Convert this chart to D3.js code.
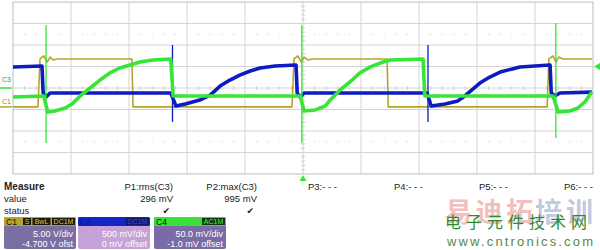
<!DOCTYPE html>
<html>
<head>
<meta charset="utf-8">
<script src="https://cdn.jsdelivr.net/npm/d3@7"></script>
<style>
  body { margin: 0; background: #fff; }
  svg { display: block; font-family: "Liberation Sans", Arial, sans-serif; }
</style>
</head>
<body>
<svg id="scope" width="600" height="250"></svg>
<script>
// ---- data, in screen divisions (time 0..10, volts -4..4) ----
var yellowTime  = [0, 0.43, 0.466, 0.53, 0.59, 0.64, 0.69, 0.76, 2.05, 2.07, 4.81, 4.845, 4.91, 4.97, 5.02, 5.09, 5.16, 6.45, 6.47, 9.21, 9.24, 9.31, 9.36, 9.41, 9.48, 9.98];
var yellowLevel = [-0.88, -0.88, 1.35, 1.49, 1.21, 1.44, 1.30, 1.35, 1.35, -0.88, -0.88, 1.35, 1.49, 1.21, 1.44, 1.30, 1.35, 1.35, -0.88, -0.88, 1.35, 1.49, 1.21, 1.44, 1.35, 1.35];

var blueTime  = [0, 0.50, 0.52, 0.57, 0.64, 2.72, 2.81, 2.97, 3.22, 3.40, 3.57, 3.74, 3.91, 4.09, 4.26, 4.52, 4.88, 4.90, 4.95, 5.02, 7.14, 7.21, 7.45, 7.67, 7.79, 8.05, 8.22, 8.40, 8.74, 9.26, 9.28, 9.34, 9.43, 9.98];
var blueLevel = [0.98, 1.02, -0.23, -0.42, -0.23, -0.23, -0.84, -0.74, -0.56, -0.33, 0.09, 0.37, 0.60, 0.79, 0.93, 1.02, 1.07, -0.23, -0.42, -0.23, -0.23, -0.84, -0.74, -0.60, -0.37, 0.23, 0.51, 0.74, 0.98, 1.07, -0.23, -0.37, -0.23, -0.19];
var blueSpikeTime = [2.75, 7.155];
var blueSpikeHigh = [2.0, 2.0];
var blueSpikeLow  = [-1.58, -1.58];

var greenTime  = [0, 0.53, 0.60, 0.72, 0.90, 1.02, 1.16, 1.33, 1.50, 1.67, 1.84, 2.02, 2.19, 2.41, 2.72, 2.76, 4.95, 5.02, 5.21, 5.38, 5.47, 5.64, 5.81, 5.98, 6.16, 6.33, 6.50, 7.07, 7.10, 9.31, 9.40, 9.60, 9.74, 9.86, 9.98];
var greenLevel = [-0.42, -0.37, -1.12, -1.07, -0.93, -0.74, -0.37, 0, 0.37, 0.70, 0.93, 1.07, 1.21, 1.30, 1.35, -0.37, -0.37, -1.07, -1.02, -0.84, -0.56, -0.09, 0.28, 0.70, 0.98, 1.16, 1.30, 1.35, -0.37, -0.37, -1.12, -1.07, -0.93, -0.65, -0.19];
var greenSpikeTime = [0.57, 4.98, 9.36];
var greenSpikeHigh = [2.93, 2.93, 3.02];
var greenSpikeLow  = [-2.56, -2.56, -2.33];

var measureNames  = ["P1:rms(C3)", "P2:max(C3)", "P3:- - -", "P4:- - -", "P5:- - -", "P6:- - -"];
var measureValues = ["296 mV", "995 mV", "", "", "", ""];
var measureStatus = ["\u2714", "\u2714", "", "", "", ""];

var chanNames   = ["C1", "C3", "C4"];
var chanBadges  = [["S", "BwL", "DC1M"], ["DC1M"], ["AC1M"]];
var chanScale   = ["5.00 V/div", "500 mV/div", "50.0 mV/div"];
var chanOffset  = ["-4.700 V ofst", "0 mV offset", "-1.0 mV offset"];

// ---- layout ----
var svg = d3.select("#scope");
var x = d3.scaleLinear().domain([0, 10]).range([13, 593]);
var y = d3.scaleLinear().domain([-4, 4]).range([174, 2]);

var YELLOW = "#b5a42c", BLUE = "#0c1cc0", GREEN = "#35e635";

// grid
var grid = svg.append("g");
grid.selectAll("line.v").data(d3.range(1, 10)).enter().append("line")
  .attr("x1", d => x(d)).attr("x2", d => x(d))
  .attr("y1", y(4)).attr("y2", y(-4))
  .attr("stroke", "#d4d4d4");
grid.selectAll("line.h").data(d3.range(-3, 4)).enter().append("line")
  .attr("y1", d => y(d)).attr("y2", d => y(d))
  .attr("x1", x(0)).attr("x2", x(10))
  .attr("stroke", "#d4d4d4");
grid.append("rect")
  .attr("x", x(0)).attr("y", y(4))
  .attr("width", x(10) - x(0)).attr("height", y(-4) - y(4))
  .attr("fill", "none").attr("stroke", "#bdbdbd");

// minor ticks on the centre axes and dotted rows at +-2.5 div
var minor = d3.range(0.2, 10, 0.2).filter(d => Math.abs(d - Math.round(d)) > 0.01);
grid.selectAll("line.mt").data(minor).enter().append("line")
  .attr("x1", d => x(d)).attr("x2", d => x(d))
  .attr("y1", y(0) - 2).attr("y2", y(0) + 2)
  .attr("stroke", "#cfcfcf");
[2.5, -2.5].forEach(function (row) {
  grid.selectAll(null).data(minor).enter().append("rect")
    .attr("x", d => x(d) - 0.5).attr("y", y(row) - 0.5)
    .attr("width", 1).attr("height", 1)
    .attr("fill", "#c8c8c8");
});
var vminor = d3.range(-3.8, 4, 0.2).filter(d => Math.abs(d - Math.round(d)) > 0.01);
grid.selectAll("line.vt").data(vminor).enter().append("line")
  .attr("y1", d => y(d)).attr("y2", d => y(d))
  .attr("x1", x(5) - 2).attr("x2", x(5) + 2)
  .attr("stroke", "#cfcfcf");

// traces
var line = d3.line().x(d => x(d[0])).y(d => y(d[1]));
function trace(times, levels, colour, width) {
  svg.append("path")
    .datum(d3.zip(times, levels))
    .attr("d", line)
    .attr("fill", "none")
    .attr("stroke", colour)
    .attr("stroke-width", width)
    .attr("stroke-linejoin", "round");
}
function spikes(times, hi, lo, colour) {
  svg.append("g").selectAll("line").data(times).enter().append("line")
    .attr("x1", d => x(d)).attr("x2", d => x(d))
    .attr("y1", (d, i) => y(hi[i])).attr("y2", (d, i) => y(lo[i]))
    .attr("stroke", colour).attr("stroke-width", 1.3);
}
trace(yellowTime, yellowLevel, YELLOW, 1.6);
trace(blueTime, blueLevel, BLUE, 3.6);
spikes(blueSpikeTime, blueSpikeHigh, blueSpikeLow, BLUE);
trace(greenTime, greenLevel, GREEN, 3.6);
spikes(greenSpikeTime, greenSpikeHigh, greenSpikeLow, GREEN);

// channel ground markers on the left
svg.append("text").attr("x", 2).attr("y", 82).text("C3")
  .attr("font-size", 7).attr("fill", "#2a9a2a");
svg.append("line").attr("x1", 0).attr("x2", 12).attr("y1", y(0)).attr("y2", y(0))
  .attr("stroke", GREEN).attr("stroke-width", 1.5);
svg.append("text").attr("x", 2).attr("y", 104).text("C1")
  .attr("font-size", 7).attr("fill", "#9a8a20");
svg.append("line").attr("x1", 0).attr("x2", 12).attr("y1", y(-0.88)).attr("y2", y(-0.88))
  .attr("stroke", YELLOW).attr("stroke-width", 1.5);

// trigger level / position markers
svg.append("path")
  .attr("d", "M" + (x(10) + 1) + "," + y(1) + " l6,-3.5 l0,7 z")
  .attr("fill", GREEN);
svg.append("path")
  .attr("d", "M" + x(5) + "," + (y(-4) + 1) + " l-3.5,6 l7,0 z")
  .attr("fill", GREEN);

// measure table
var colRight = [173, 257, 337, 423, 508, 593];
var tbl = svg.append("g").attr("font-size", 9.5).attr("fill", "#222");
tbl.append("text").attr("x", 4).attr("y", 190).text("Measure")
  .attr("font-weight", "bold").attr("font-size", 10);
tbl.append("text").attr("x", 4).attr("y", 202).text("value");
tbl.append("text").attr("x", 4).attr("y", 214).text("status");
tbl.selectAll("text.n").data(measureNames).enter().append("text")
  .attr("x", (d, i) => colRight[i]).attr("y", 190)
  .attr("text-anchor", "end").text(d => d);
tbl.selectAll("text.v").data(measureValues).enter().append("text")
  .attr("x", (d, i) => colRight[i]).attr("y", 202)
  .attr("text-anchor", "end").text(d => d);
tbl.selectAll("text.s").data(measureStatus).enter().append("text")
  .attr("x", (d, i) => colRight[i] - 3).attr("y", 214)
  .attr("text-anchor", "end").attr("font-family", "DejaVu Sans")
  .attr("font-size", 9).text(d => d);

// channel boxes
var boxX = [4, 78, 154], boxW = 72;
var headFill = [YELLOW, "#1426c8", "#3ae03a"];
var bodyFill = ["#7a6ea3", "#c6a2d6", "#7a6ba6"];
var badgeFill = ["#1c1a08", "#101a70", "#0e3a0e"];
var badgeText = ["#d8c850", "#3a4ad8", "#50f050"];
chanNames.forEach(function (name, i) {
  var g = svg.append("g").attr("transform", "translate(" + boxX[i] + ",217)");
  g.append("rect").attr("width", boxW).attr("height", 32).attr("rx", 2).attr("fill", bodyFill[i]);
  g.append("rect").attr("width", boxW).attr("height", 9).attr("rx", 1.5).attr("fill", headFill[i]);
  g.append("text").attr("x", 2).attr("y", 7.5).attr("font-size", 8.5)
    .attr("fill", i === 1 ? "#0a1490" : "#111").text(name);
  var right = boxW - 1;
  chanBadges[i].slice().reverse().forEach(function (b) {
    var w = b.length * 5 + 3;
    g.append("rect").attr("x", right - w).attr("y", 1).attr("width", w).attr("height", 7)
      .attr("fill", badgeFill[i]);
    g.append("text").attr("x", right - w / 2).attr("y", 7).attr("text-anchor", "middle")
      .attr("font-size", 7).attr("fill", badgeText[i]).text(b);
    right -= w + 1.5;
  });
  g.append("text").attr("x", boxW - 3).attr("y", 19.5).attr("text-anchor", "end")
    .attr("font-size", 9).attr("fill", "#fff").text(chanScale[i]);
  g.append("text").attr("x", boxW - 3).attr("y", 29.5).attr("text-anchor", "end")
    .attr("font-size", 9).attr("fill", "#fff").text(chanOffset[i]);
});

// watermark
var wm = svg.append("g");
wm.append("text").attr("x", 445).attr("y", 222).attr("font-size", 27).attr("font-weight", "bold")
  .attr("font-family", "Noto Sans CJK SC").attr("fill", "#f0b0b0").text("易迪拓")
  .attr("textLength", 88).attr("opacity", 0.8);
wm.append("text").attr("x", 535).attr("y", 222).attr("font-size", 27).attr("font-weight", "bold")
  .attr("font-family", "Noto Sans CJK SC").attr("fill", "#b4bcd6").text("培训")
  .attr("textLength", 58).attr("opacity", 0.8);
wm.append("text").attr("x", 445).attr("y", 228).attr("font-size", 16)
  .attr("font-family", "Noto Sans CJK SC").attr("fill", "#2f8a2f").text("电子元件技术网")
  .attr("textLength", 142);
wm.append("text").attr("x", 447).attr("y", 246).attr("font-size", 13)
  .attr("fill", "#4f8a4f").text("www.cntronics.com").attr("textLength", 146);
</script>
</body>
</html>
